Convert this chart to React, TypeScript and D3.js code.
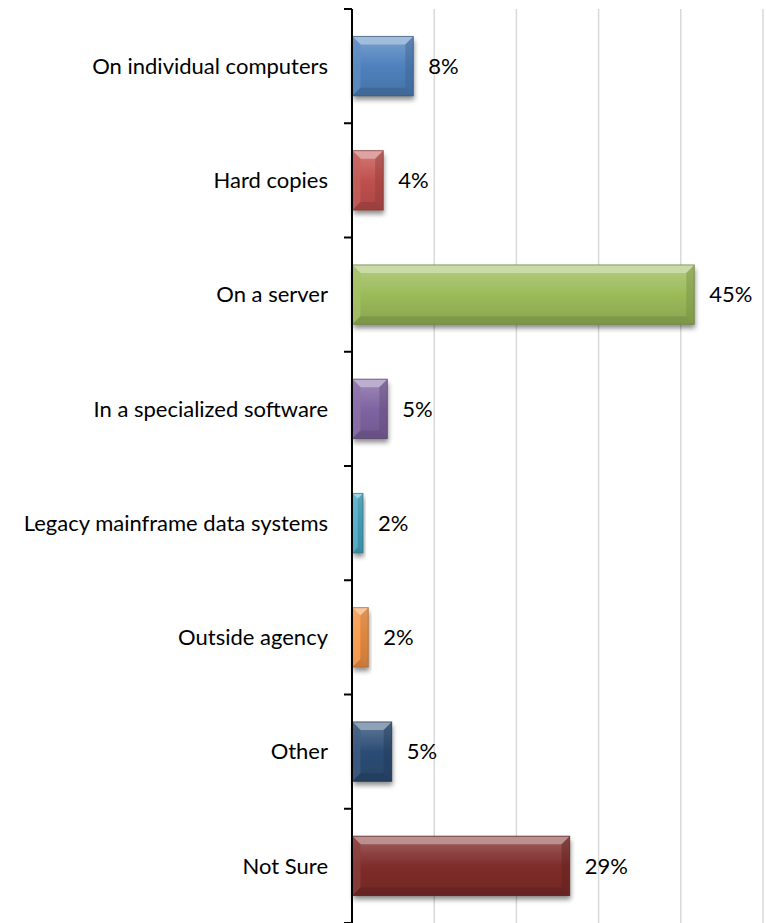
import React from "react";
import * as d3 from "d3";

const categories = [
  "On individual computers",
  "Hard copies",
  "On a server",
  "In a specialized software",
  "Legacy mainframe data systems",
  "Outside agency",
  "Other",
  "Not Sure",
];
const values = [7.46, 3.8, 41.64, 4.3, 1.34, 1.98, 4.83, 26.48];
const valueLabels = ["8%", "4%", "45%", "5%", "2%", "2%", "5%", "29%"];
const colors = ["#4f81bd", "#c0504d", "#9bbb59", "#8064a2", "#4bacc6", "#f79646", "#2c4d75", "#7f2d2a"];
const gridValues = [10, 20, 30, 40, 50];

const W = 766;
const H = 923;
const axisX = 352;
const top = 9;
const bottom = 923;
const right = 763;

export default function App() {
  const x = d3.scaleLinear().domain([0, 50]).range([axisX, right]);
  const y = d3.scaleBand<string>().domain(categories).range([top, bottom]).paddingInner(0.48).paddingOuter(0.24);
  const tickYs = d3.range(categories.length + 1).map((i) => top + (i * (bottom - top)) / categories.length);
  const font = "Lato, 'Open Sans', sans-serif";

  return (
    <svg width={W} height={H} style={{ position: "absolute", left: 0, top: 0, display: "block", background: "#fff" }}>
      <defs>
        <filter id="sh" x="-20%" y="-20%" width="140%" height="160%">
          <feGaussianBlur in="SourceAlpha" stdDeviation="2.5" />
          <feOffset dx="1" dy="4" result="b" />
          <feComponentTransfer>
            <feFuncA type="linear" slope="0.45" />
          </feComponentTransfer>
          <feMerge>
            <feMergeNode />
            <feMergeNode in="SourceGraphic" />
          </feMerge>
        </filter>
        {colors.map((c, i) => {
          const base = d3.color(c)!;
          return (
            <linearGradient key={i} id={`g${i}`} x1="0" y1="0" x2="0" y2="1">
              <stop offset="0" stopColor={d3.interpolateRgb(c, "#fff")(0.25)} />
              <stop offset="0.5" stopColor={c} />
              <stop offset="1" stopColor={base.darker(0.35).toString()} />
            </linearGradient>
          );
        })}
      </defs>
      {gridValues.map((g) => (
        <line key={g} x1={x(g)} x2={x(g)} y1={top} y2={bottom} stroke="#d9d9d9" strokeWidth={1.5} />
      ))}
      {categories.map((cat, i) => {
        const x0 = x(0) + 0.5;
        const x1 = x(values[i]);
        const y0 = y(cat)!;
        const h = y.bandwidth();
        const y1 = y0 + h;
        const w = x1 - x0;
        const b = Math.min(8, w / 2);
        const c = colors[i];
        const light = d3.interpolateRgb(c, "#fff")(0.5);
        const dark = d3.color(c)!.darker(0.8).toString();
        return (
          <g key={cat}>
            <g filter="url(#sh)">
              <rect x={x0} y={y0} width={w} height={h} fill={`url(#g${i})`} />
            </g>
            <polygon points={`${x0},${y0} ${x1},${y0} ${x1 - b},${y0 + b} ${x0 + b},${y0 + b}`} fill={light} opacity={0.9} />
            <polygon points={`${x0},${y0} ${x0 + b},${y0 + b} ${x0 + b},${y1 - b} ${x0},${y1}`} fill={d3.interpolateRgb(c, "#fff")(0.1)} opacity={0.7} />
            <polygon points={`${x1},${y0} ${x1},${y1} ${x1 - b},${y1 - b} ${x1 - b},${y0 + b}`} fill={dark} opacity={0.45} />
            <polygon points={`${x0},${y1} ${x1},${y1} ${x1 - b},${y1 - b} ${x0 + b},${y1 - b}`} fill={dark} opacity={0.6} />
            <rect x={x0} y={y0} width={w} height={h} fill="none" stroke={d3.color(c)!.darker(1.2).toString()} strokeWidth={1} opacity={0.7} />
            <text x={x1 + 15} y={y0 + h / 2} dy="0.35em" fontFamily={font} fontSize={22} fill="#000">
              {valueLabels[i]}
            </text>
            <text x={axisX - 24} y={y0 + h / 2} dy="0.35em" textAnchor="end" fontFamily={font} fontSize={22} fill="#000">
              {cat}
            </text>
          </g>
        );
      })}
      <line x1={axisX} x2={axisX} y1={top} y2={bottom} stroke="#000" strokeWidth={2} />
      {tickYs.map((t, i) => (
        <line key={i} x1={axisX - 8} x2={axisX} y1={t} y2={t} stroke="#000" strokeWidth={2} />
      ))}
    </svg>
  );
}
